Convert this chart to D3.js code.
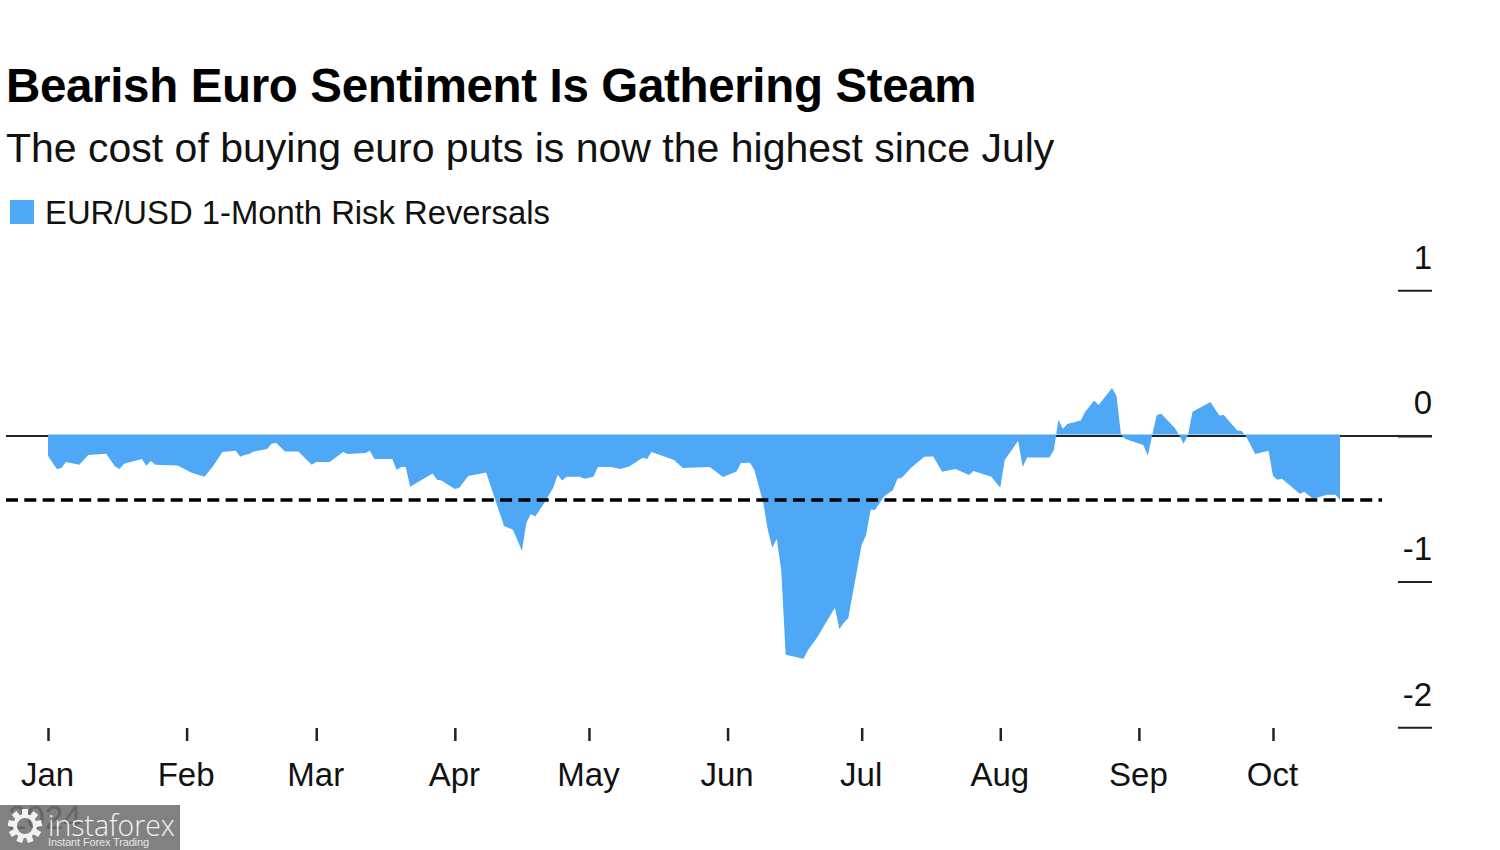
<!DOCTYPE html>
<html>
<head>
<meta charset="utf-8">
<script src="https://cdn.jsdelivr.net/npm/d3@7"></script>
<style>
  html, body { margin: 0; padding: 0; background: #fff; }
  svg { display: block; }
  text { font-family: "Liberation Sans", sans-serif; fill: #111; }
</style>
</head>
<body>
<script>
// days since Jan 1 2024
var dayOffsets = [0,2,3,4,7,9,13,15,16,17,21,22,23,24,29,32,35,37,39,42,43,44,45,46,49,50,51,53,56,57,59,60,63,66,67,71,72,73,77,78,79,80,81,86,87,88,91,92,94,98,
  102,104,106,107,108,109,111,113,114,115,116,119,120,122,123,126,128,130,133,134,135,140,142,148,151,154,155,157,158,160,161,162,163,164,165,169,170,172,176,177,178,179,
  182,183,184,185,187,189,190,191,193,196,198,200,203,206,207,211,213,214,217,218,219,224,225,226,227,228,231,232,234,235,238,239,240,241,245,246,247,248,249,252,253,254,255,256,260,262,263,266,267,268,270,273,274,275,276,280,281,283,286,288,289];

var riskReversals = [-0.148,-0.239,-0.230,-0.189,-0.209,-0.141,-0.132,-0.221,-0.237,-0.202,-0.168,-0.216,-0.182,-0.209,-0.214,-0.262,-0.290,-0.216,-0.120,-0.113,-0.154,-0.141,-0.134,-0.118,-0.100,-0.065,-0.058,-0.118,-0.118,-0.148,-0.209,-0.189,-0.189,-0.120,-0.134,-0.127,-0.113,-0.168,-0.168,-0.244,-0.223,-0.223,-0.360,-0.269,-0.312,-0.317,-0.374,-0.367,-0.285,-0.262,
  -0.628,-0.655,-0.798,-0.607,-0.546,-0.564,-0.470,-0.367,-0.278,-0.317,-0.290,-0.290,-0.305,-0.290,-0.223,-0.223,-0.237,-0.221,-0.161,-0.168,-0.120,-0.175,-0.230,-0.223,-0.292,-0.255,-0.196,-0.194,-0.244,-0.470,-0.655,-0.779,-0.717,-0.930,-1.513,-1.540,-1.479,-1.396,-1.189,-1.335,-1.292,-1.260,
  -0.758,-0.690,-0.518,-0.518,-0.427,-0.381,-0.305,-0.297,-0.230,-0.154,-0.152,-0.257,-0.237,-0.278,-0.251,-0.290,-0.367,-0.175,-0.043,-0.223,-0.159,-0.159,-0.106,0.100,0.038,0.072,0.095,0.156,0.232,0.202,0.319,0.264,-0.003,-0.031,-0.072,-0.146,-0.003,0.134,0.141,0.045,-0.003,-0.065,-0.003,0.156,0.223,0.129,0.134,0.026,0.024,-0.015,-0.134,-0.113,-0.285,-0.312,-0.305,-0.408,-0.393,-0.443,-0.415,-0.415,-0.450];

var monthLabels = ["Jan","Feb","Mar","Apr","May","Jun","Jul","Aug","Sep","Oct"];
var yTicks = [1, 0, -1, -2];
var dashedLevel = -0.45;

var blue = "#4ea8f5";
var width = 1500, height = 850;

var svg = d3.select("body").append("svg")
  .attr("width", width)
  .attr("height", height);

var start = new Date(2024, 0, 1);
var monthDates = monthLabels.map(function(m, i) { return new Date(2024, i, 1); });
var points = dayOffsets.map(function(d, i) {
  return { date: d3.timeDay.offset(start, d), value: riskReversals[i] };
});

//1 Jan sits at x=48, 1 Oct at x=1273
var x = d3.scaleTime()
  .domain([start, new Date(2024, 9, 1)])
  .range([48, 1273]);

var y = d3.scaleLinear()
  .domain([1, -2])
  .range([288.7, 725.8]);

//titles
svg.append("text").attr("x", 6).attr("y", 102)
  .style("font-size", "47.5px").style("font-weight", "bold").style("letter-spacing", "-0.35px").style("fill", "#000")
  .text("Bearish Euro Sentiment Is Gathering Steam");
svg.append("text").attr("x", 6).attr("y", 162)
  .style("font-size", "41px")
  .text("The cost of buying euro puts is now the highest since July");

//legend
svg.append("rect").attr("x", 10).attr("y", 200).attr("width", 24).attr("height", 24).attr("fill", blue);
svg.append("text").attr("x", 45).attr("y", 224)
  .style("font-size", "32.8px")
  .text("EUR/USD 1-Month Risk Reversals");

//zero line goes under the area
svg.append("line")
  .attr("x1", 6).attr("x2", 1432)
  .attr("y1", y(0) + 1.5).attr("y2", y(0) + 1.5)
  .attr("stroke", "#222").attr("stroke-width", 2);

var area = d3.area()
  .x(function(d) { return x(d.date); })
  .y0(y(0))
  .y1(function(d) { return y(d.value); });

svg.append("path").datum(points)
  .attr("d", area)
  .attr("fill", blue);

//dashed line on top
svg.append("line")
  .attr("x1", 6).attr("x2", 1382)
  .attr("y1", y(dashedLevel)).attr("y2", y(dashedLevel))
  .attr("stroke", "#000").attr("stroke-width", 3.5)
  .attr("stroke-dasharray", "12 6.3");

//y axis, with a plain hyphen on the negative labels
var yAxis = d3.axisLeft(y).tickValues(yTicks).tickSize(34).tickFormat(function(d) { return String(d); });
var gy = svg.append("g").attr("transform", "translate(1432,1.5)").call(yAxis);
gy.select(".domain").remove();
gy.selectAll("line").attr("stroke", "#222").attr("stroke-width", 2);
gy.selectAll("text")
  .attr("x", 0).attr("dy", 0).attr("y", -22)
  .attr("text-anchor", "end")
  .style("font-size", "33px")
  .style("fill", "#111");

//x axis
var xAxis = d3.axisBottom(x).tickValues(monthDates).tickSize(13)
  .tickFormat(function(d) { return monthLabels[d.getMonth()]; });
var gx = svg.append("g").attr("transform", "translate(0,728)").call(xAxis);
gx.select(".domain").remove();
gx.selectAll("line").attr("stroke", "#222").attr("stroke-width", 2.5);
gx.selectAll("text")
  .attr("x", -1).attr("y", 58).attr("dy", 0)
  .style("font-size", "33px")
  .style("fill", "#111");

//year label, mostly hidden under the watermark
svg.append("text").attr("x", 8).attr("y", 829).style("font-size", "33px").text("2024");

//watermark
var wm = svg.append("g");
wm.append("rect").attr("x", 0).attr("y", 805).attr("width", 180).attr("height", 45)
  .attr("fill", "#707070").attr("fill-opacity", 0.88);
var gear = wm.append("g").attr("transform", "translate(25,826)");
d3.range(9).forEach(function(i) {
  gear.append("line")
    .attr("x1", 0).attr("y1", -9).attr("x2", 0).attr("y2", -17)
    .attr("transform", "rotate(" + i * 40 + ")")
    .attr("stroke", "#f2f2f2").attr("stroke-width", 6);
});
gear.append("circle").attr("r", 10).attr("fill", "none").attr("stroke", "#f2f2f2").attr("stroke-width", 4);
wm.append("text").attr("x", 48).attr("y", 836)
  .style("font-size", "30px").style("fill", "#f2f2f2").style("font-family", "'Open Sans', sans-serif").style("font-weight", 300)
  .attr("textLength", 127).attr("lengthAdjust", "spacingAndGlyphs")
  .text("instaforex");
wm.append("text").attr("x", 48).attr("y", 846)
  .style("font-size", "11px").style("fill", "#e6e6e6")
  .attr("textLength", 101)
  .text("Instant Forex Trading");
</script>
</body>
</html>
